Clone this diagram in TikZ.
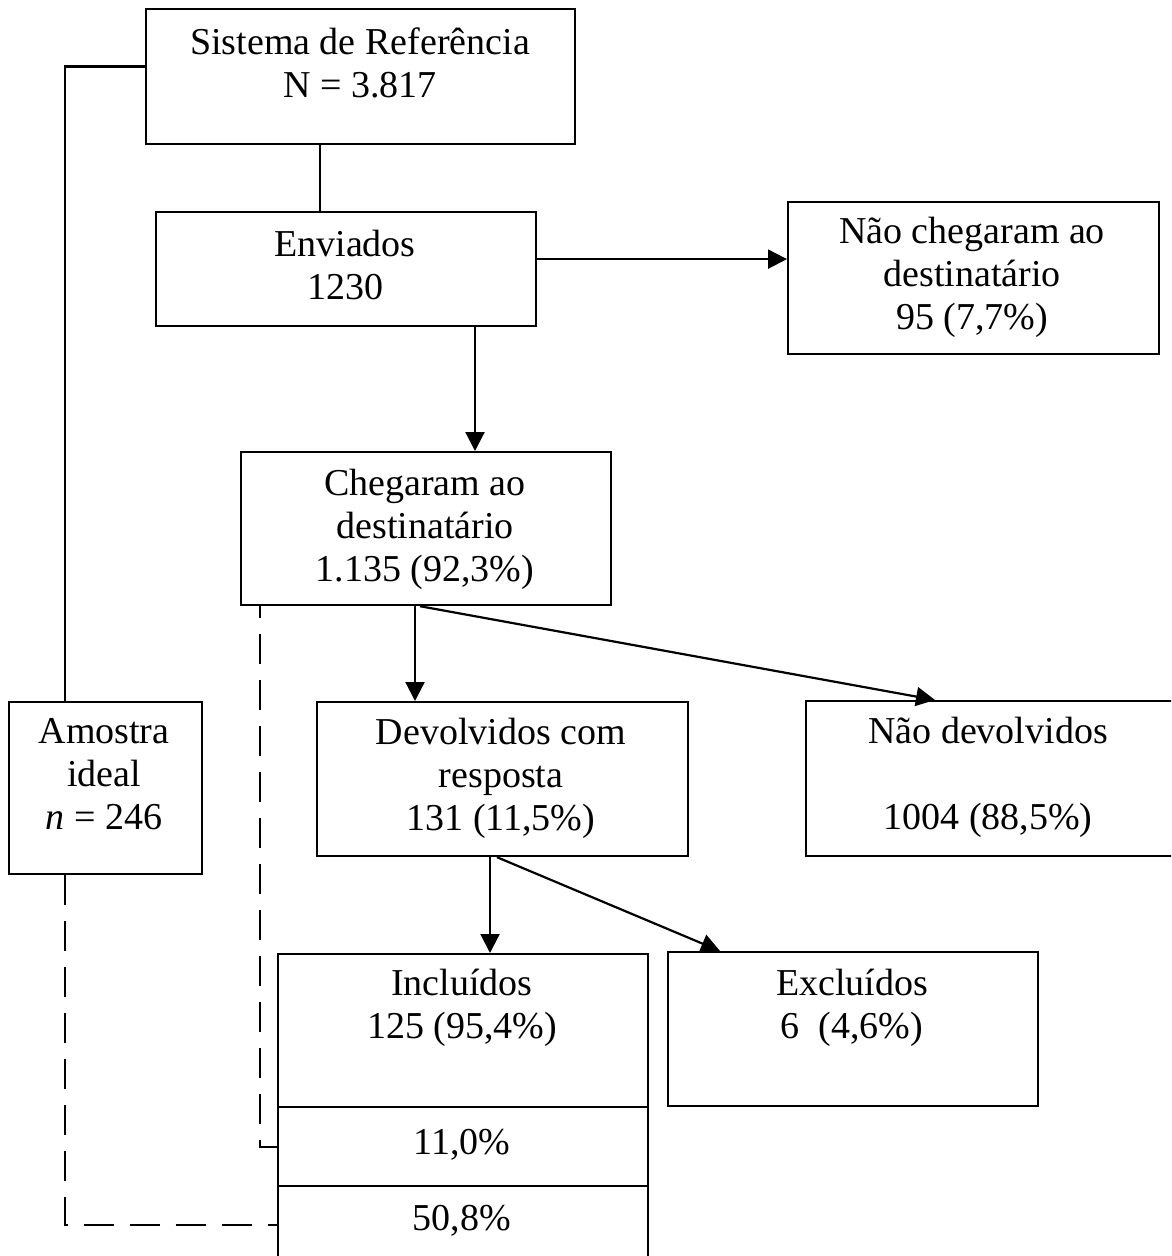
\documentclass[tikz,border=0pt]{standalone}
\usepackage{fontspec}
\setmainfont{Liberation Serif}
\usetikzlibrary{arrows.meta}

\tikzset{
  box/.style={draw, line width=1.1pt, anchor=north west, inner sep=0pt},
  txt/.style={anchor=north, inner sep=0pt, align=center,
    font=\fontsize{19pt}{21.5pt}\selectfont, execute at begin node=\strut},
  arr/.style={line width=1.1pt, -{Triangle[length=9.5pt,width=9.5pt]}},
  link/.style={line width=1.1pt},
  dashlink/.style={line width=1.1pt, dash pattern=on 15pt off 8pt}
}

\begin{document}
\begin{tikzpicture}[x=0.5pt, y=-0.5pt]
  \useasboundingbox (0,0) rectangle (1171,1256);
  \clip (0,0) rectangle (1171,1256);
  % boxes
  \node[box, minimum width=214.5pt, minimum height=67.5pt] (sis) at (145,8) {};
  \node[box, minimum width=190pt, minimum height=57pt] (env) at (155,211) {};
  \node[box, minimum width=185.5pt, minimum height=76pt] (nao) at (787,201) {};
  \node[box, minimum width=185pt, minimum height=76.5pt] (che) at (240,451) {};
  \node[box, minimum width=96.5pt, minimum height=86pt] (amo) at (8,701) {};
  \node[box, minimum width=185.5pt, minimum height=77pt] (dev) at (316,701) {};
  \node[box, minimum width=186pt, minimum height=77.5pt] (ndev) at (805,700) {};
  \node[box, minimum width=185pt, minimum height=76.5pt] (inc) at (277,953) {};
  \node[box, minimum width=185pt, minimum height=77pt] (exc) at (667,951) {};
  \node[box, minimum width=185pt, minimum height=39.5pt] (p11) at (277,1106) {};
  \node[box, minimum width=185pt, minimum height=38.5pt] (p50) at (277,1185) {};
  % texts
  \node[txt] (sis-t) at (360,27) {Sistema de Referência\\N = 3.817};
  \node[txt] (env-t) at (345,230) {Enviados\\1230};
  \node[txt] (nao-t) at (972,217) {Não chegaram ao\\destinatário\\95 (7,7\%)};
  \node[txt] (che-t) at (425,469) {Chegaram ao\\destinatário\\1.135 (92,3\%)};
  \node[txt] (amo-t) at (104,718) {Amostra\\ideal\\\textit{n} = 246};
  \node[txt] (dev-t) at (501,718) {Devolvidos com\\resposta\\131 (11,5\%)};
  \node[txt] (ndev-t) at (988,717) {Não devolvidos\\[21.5pt]1004 (88,5\%)};
  \node[txt] (inc-t) at (462,969) {Incluídos\\125 (95,4\%)};
  \node[txt] (exc-t) at (852,969) {Excluídos\\6\ \ (4,6\%)};
  \node[txt] (p11-t) at (462,1124) {11,0\%};
  \node[txt] (p50-t) at (462,1200) {50,8\%};
  % connector columns
  \coordinate (xa) at (65,0);
  \coordinate (xb) at (320,0);
  \coordinate (xc) at (475,0);
  \coordinate (xd) at (415,0);
  \coordinate (xd2) at (420,0);
  \coordinate (xe) at (935,0);
  \coordinate (xf) at (490,0);
  \coordinate (xf2) at (497,0);
  \coordinate (xg) at (720,0);
  \coordinate (xh) at (260,0);
  % connectors
  \draw[link] (sis.south -| xb) -- (env.north -| xb);
  \draw[link] ([yshift=5pt]sis.west) -| (amo.north -| xa);
  \draw[arr] ([yshift=5pt]env.east) -- ([yshift=5pt]env.east -| nao.west);
  \draw[arr] (env.south -| xc) -- (che.north -| xc);
  \draw[arr] (che.south -| xd) -- (dev.north -| xd);
  \draw[arr] (che.south -| xd2) -- (ndev.north -| xe);
  \draw[arr] (dev.south -| xf) -- (inc.north -| xf);
  \draw[arr] (dev.south -| xf2) -- (exc.north -| xg);
  \draw[dashlink, dash phase=9pt] (che.south -| xh) |- (p11.west);
  \draw[dashlink] (amo.south -| xa) |- (p50.west);
\end{tikzpicture}
\end{document}
